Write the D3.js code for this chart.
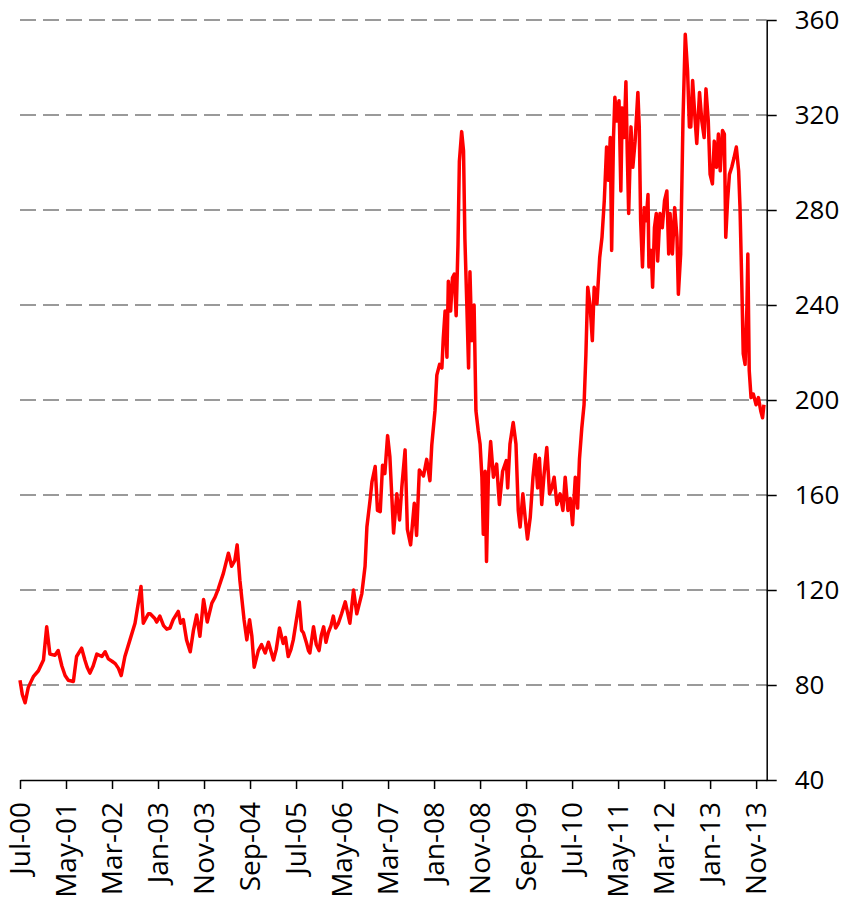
<!DOCTYPE html>
<html>
<head>
<meta charset="utf-8">
<script src="https://cdn.jsdelivr.net/npm/d3@7/dist/d3.min.js"></script>
<style>
    body { margin: 0; background: #fff; }
    .axis text { font-family: "Open Sans", sans-serif; font-size: 26px; fill: #000; }
    .axis.x text { font-size: 28px; }
    .axis path, .axis line { stroke: #000; stroke-width: 1.5; }
</style>
</head>
<body>
<div id="chart"></div>
<script>
"use strict";

// months elapsed since Jul-00 (the axis counts in months, one label every 10)
const months = [
    0, 0.5, 1.1, 1.8, 2.9, 4, 5.1, 5.8, 6.5, 7.6, 8.3, 9.1, 9.8, 10.5, 11.6, 12.3, 13.4, 14.1, 14.6, 15.2,
    15.9, 16.7, 17.8, 18.5, 19.2, 20, 20.7, 21.4, 22, 22.8, 23.9, 25, 26.3, 26.8, 27.9, 28.3, 29.3,
    29.7, 30.4, 31.2, 31.9, 32.6, 33.3, 34.4, 34.9, 35.5, 36.2, 37, 37.7, 38.4, 39.1, 39.9, 40.7, 41.7, 42.4,
    43.1, 44.2, 45.3, 46, 46.7, 47.2, 47.8, 48.7, 49.3, 49.9, 50.4, 50.9, 51.8, 52.5, 53.3, 54, 55.1, 55.7,
    56.4, 57.2, 57.7, 58.3, 58.9, 59.4, 60.7, 61.2, 61.6, 62.3, 62.7, 63,
    63.8, 64.4, 65, 65.5, 66, 66.5, 67, 67.6, 68.1, 68.6, 69.2, 69.9, 70.7, 71.7, 72.5, 73.2, 74.3, 75, 75.4,
    76.1, 76.5, 77.2, 77.7, 78.3, 78.8, 79.3, 79.9, 80.4, 81.2, 81.9, 82.5, 83, 83.7, 84.2, 84.9, 85.7, 86.2,
    86.8, 87.7, 88.4, 89.1, 89.5, 90.2,
    90.6, 91.2, 91.7, 92, 92.4, 92.8, 93.1, 93.6, 94, 94.4, 94.8, 95.2, 95.5, 96, 96.4, 96.7, 97.1, 97.5,
    97.8, 98.2, 98.7, 99.1, 99.6, 100, 100.4, 100.7, 101.1, 101.4, 101.8, 102.3, 102.9, 103.6, 104.2, 104.9,
    105.7, 106, 106.5, 107.2, 107.8, 108.3, 108.7, 109.3, 109.8, 110.3, 110.9, 111.5, 112, 112.5, 112.9,
    113.4, 113.9, 114.5, 115.1, 115.6, 116.1, 116.7, 117.4, 118, 118.5, 119.1, 119.6, 120.1, 120.7, 121.2,
    121.6, 122.1, 122.6, 123, 123.4, 123.9,
    124.4, 124.8, 125.4, 126, 126.5, 127, 127.5, 127.9, 128.3, 128.6, 129, 129.3, 129.7, 130.2, 130.6, 130.9,
    131.3, 131.7, 132, 132.3, 132.8, 133.2, 133.7, 134.3, 134.6, 134.9, 135.3, 135.7, 136.1, 136.5, 136.7,
    137.2, 137.5, 137.9, 138.3, 138.6, 139.1, 139.6, 140.1, 140.6, 141, 141.3, 141.8, 142.3, 142.8, 143.1,
    143.6, 144.1, 144.6, 145.1, 145.5,
    145.8, 146.2, 146.7, 147.1, 147.7, 148.2, 148.7, 149.1, 149.6, 150, 150.5, 150.9, 151.4, 151.8, 152.2,
    152.7, 153.1, 153.4, 153.8, 154.2, 154.7, 155.2, 155.7, 156.2, 156.5, 156.9, 157.2, 157.6, 158, 158.2,
    158.5, 158.9, 159.4, 160, 160.5, 161, 161.4, 161.7
];

const values = [
    82, 76, 72.5, 79, 83.5, 86, 90.5, 104.5, 93, 92.5, 94.5, 88, 84, 82, 81.5, 92, 95.5, 90.5, 87.5, 85,
    88, 93, 92, 94, 91, 90, 89, 87, 84, 92, 99, 106, 121.5, 106, 110, 110, 108,
    106.5, 109, 105, 103.5, 104, 107.5, 111, 106, 107.5, 99, 94, 103, 109.5, 100.5, 116, 106.5, 114.5, 117,
    120.5, 127, 135.5, 130, 132.5, 139, 124, 107.5, 99, 107.5, 100.5, 87.5, 94.5, 97, 93.5, 98, 90.5, 95,
    104, 97.5, 100, 92, 95, 99, 115, 103, 102, 97.5, 94.5, 93.5,
    104.5, 97, 94.5, 101, 104.5, 98, 102, 105, 109, 104, 106, 110, 115, 106, 120, 110, 118.5, 130, 146.5,
    158, 165.5, 172, 153.5, 153, 172.5, 169, 185, 176, 144, 160.5, 149.5, 163.5, 179, 145.5, 139, 156.5, 143,
    170.5, 168, 175, 166, 181, 195.5,
    210.5, 215, 213.5, 226, 237.5, 218, 250, 237.5, 251.5, 253, 235.5, 265.5, 300.5, 313, 305, 268, 241.5, 213.5,
    254, 225, 240, 195.5, 187, 181.5, 167.5, 143.5, 170, 132, 167.5, 182.5, 167.5, 173, 156, 170,
    174.5, 163, 181.5, 190.5, 181.5, 153.5, 146.5, 160.5, 150.5, 141.5, 150.5, 167.5, 177, 163, 175.5,
    156, 168.5, 180, 160.5, 163, 167.5, 156, 160.5, 153.5, 167.5, 153.5, 158.5, 147.5, 167.5, 154.5,
    175, 188, 198, 219, 247.5, 240,
    225, 247.5, 240.5, 260, 268.5, 284, 306.5, 292.5, 310.5, 263, 310.5, 327.5, 317.5, 326, 288, 323,
    310.5, 334, 303.5, 278.5, 315, 298, 309, 329.5, 315, 275.5, 256, 281, 275.5, 286.5, 256,
    263, 247.5, 272.5, 278.5, 258.5, 278.5, 272.5, 284, 288, 261.5, 278.5, 261.5, 281, 268.5, 244.5,
    261.5, 317.5, 354, 338.5, 315,
    315, 334.5, 319, 308, 329.5, 317.5, 310.5, 331, 317.5, 295, 291, 309, 298, 312, 296.5,
    313.5, 312, 268.5, 284, 295, 298, 302, 306.5, 296.5, 281, 247.5, 219.5, 215, 239, 261.5,
    212.5, 201, 202.5, 198, 201, 195.5, 192.5, 198
];

const tickLabels = ["Jul-00", "May-01", "Mar-02", "Jan-03", "Nov-03", "Sep-04", "Jul-05", "May-06",
    "Mar-07", "Jan-08", "Nov-08", "Sep-09", "Jul-10", "May-11", "Mar-12", "Jan-13", "Nov-13"];
const tickMonths = [0, 10, 20, 30, 40, 50, 60, 70, 80, 90, 100, 110, 120, 130, 140, 150, 160];
const yTicks = [40, 80, 120, 160, 200, 240, 280, 320, 360];

let width = 848,
    height = 899;

let svg = d3.select("#chart")
    .append("svg")
    .attr("width", width)
    .attr("height", height);

let x = d3.scaleLinear().domain([0, 162.3]).range([20, 766.7]);
let y = d3.scaleLinear().domain([40, 360]).range([780, 20]);

// dashed gridlines
svg.append("g")
    .attr("class", "grid")
    .selectAll("line")
    .data(yTicks.slice(1))
    .enter().append("line")
    .attr("x1", x(0))
    .attr("x2", x(162.3))
    .attr("y1", d => y(d))
    .attr("y2", d => y(d))
    .attr("stroke", "#9a9a9a")
    .attr("stroke-width", 2)
    .attr("stroke-dasharray", "16,7");

// series
let line = d3.line()
    .x((d, i) => x(months[i]))
    .y(d => y(d));

svg.append("path")
    .datum(values)
    .attr("fill", "none")
    .attr("stroke", "#ff0000")
    .attr("stroke-width", 3.5)
    .attr("stroke-linejoin", "round")
    .attr("d", line);

// x axis
let xAxis = svg.append("g")
    .attr("class", "axis x")
    .attr("transform", "translate(0," + y(40) + ")")
    .call(d3.axisBottom(x)
        .tickValues(tickMonths)
        .tickFormat((d, i) => tickLabels[i])
        .tickSize(9)
        .tickSizeOuter(0));

xAxis.selectAll("text")
    .attr("transform", "rotate(-90)")
    .attr("text-anchor", "end")
    .attr("x", -22)
    .attr("y", 0)
    .attr("dy", "0.35em");

// y axis on the right
svg.append("g")
    .attr("class", "axis")
    .attr("transform", "translate(" + x(162.3) + ",0)")
    .call(d3.axisRight(y)
        .tickValues(yTicks)
        .tickSize(10)
        .tickPadding(18)
        .tickSizeOuter(0));
</script>
</body>
</html>
